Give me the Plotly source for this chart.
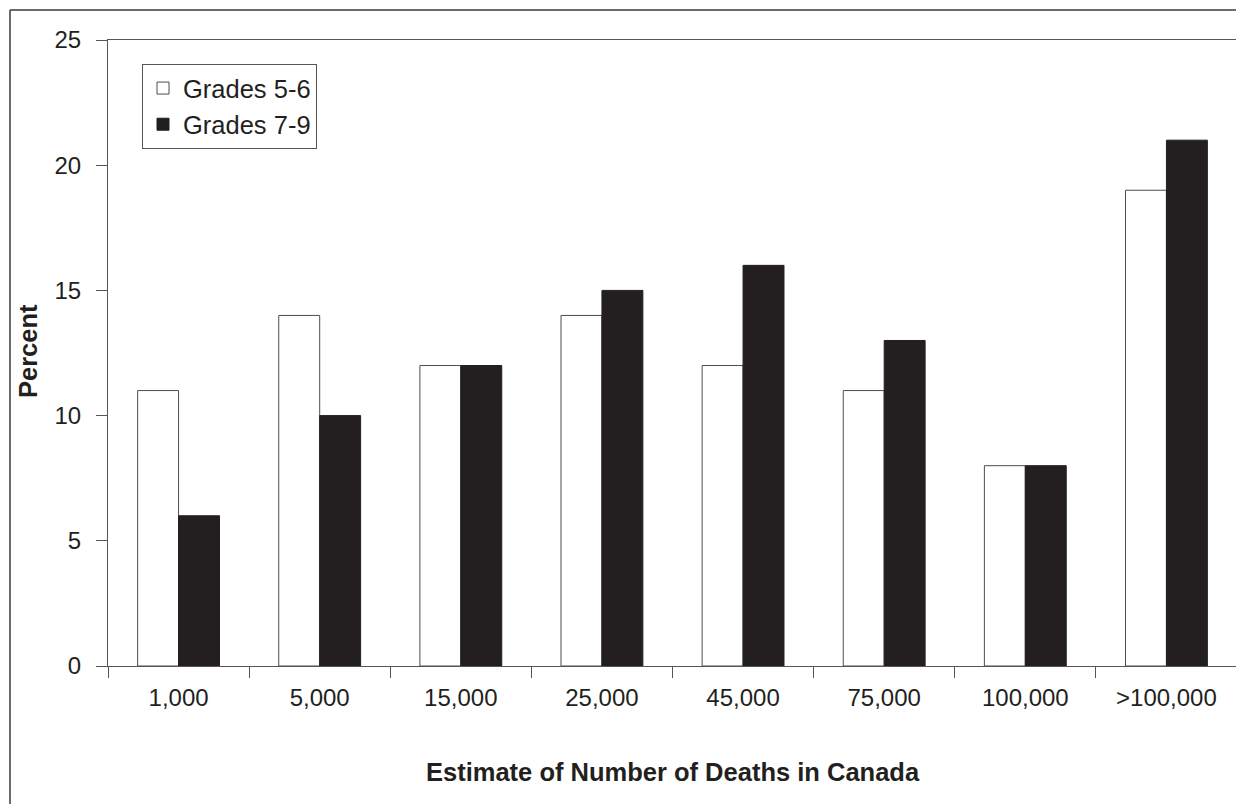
import plotly.graph_objects as go

categories = ["1,000", "5,000", "15,000", "25,000", "45,000", "75,000", "100,000", ">100,000"]
grades_5_6 = [11, 14, 12, 14, 12, 11, 8, 19]
grades_7_9 = [6, 10, 12, 15, 16, 13, 8, 21]
y_ticks = [0, 5, 10, 15, 20, 25]

FONT = "Liberation Sans, Arial, Helvetica, sans-serif"
AX = "#555555"
OFF = 8  # page body margin
W, H = 1244, 804
# plot area in page pixels: x 108..1237, y 40..666
ML = 108 - OFF
MT = 40 - OFF
MR = W - (1237 - OFF)
MB = H - (666 - OFF)
PW = W - ML - MR
PH = H - MT - MB

def px_x(px):
    return (px - OFF - ML) / PW

def px_y(py):
    return (H - MB - (py - OFF)) / PH

fig = go.Figure()
fig.add_trace(go.Bar(
    x=categories, y=grades_5_6, name="Grades 5-6",
    marker=dict(color="#ffffff", line=dict(color="#4d4d4d", width=1)),
))
fig.add_trace(go.Bar(
    x=categories, y=grades_7_9, name="Grades 7-9",
    marker=dict(color="#231f20", line=dict(color="#231f20", width=1)),
))

fig.update_layout(
    width=W, height=H,
    margin=dict(l=ML, r=MR, t=MT, b=MB, pad=0),
    paper_bgcolor="white", plot_bgcolor="white",
    barmode="group", bargap=0.42, bargroupgap=0,
    font=dict(family=FONT, size=24, color="#231f20"),
    showlegend=True,
    legend=dict(
        x=px_x(142), y=px_y(64), xanchor="left", yanchor="top",
        bordercolor=AX, borderwidth=1, bgcolor="white",
        font=dict(size=25.5, family=FONT, color="#231f20"),
        traceorder="normal", entrywidth=180, entrywidthmode="pixels",
    ),
    xaxis=dict(
        type="category", range=[-0.5, 7.5],
        showline=True, linecolor=AX, linewidth=1, mirror=True,
        ticks="outside", ticklen=11, tickcolor=AX, tickwidth=1,
        tickson="boundaries", showgrid=False, zeroline=False,
        ticklabelstandoff=10,
        tickfont=dict(size=24, family=FONT, color="#231f20"),
    ),
    yaxis=dict(
        range=[0, 25], tickvals=y_ticks,
        showline=True, linecolor=AX, linewidth=1, mirror=True,
        ticks="outside", ticklen=11, tickcolor=AX, tickwidth=1,
        showgrid=False, zeroline=False,
        ticklabelstandoff=10,
        tickfont=dict(size=24, family=FONT, color="#231f20"),
    ),
    annotations=[
        dict(text="<b>Estimate of Number of Deaths in Canada</b>",
             xref="paper", yref="paper", x=0.5, y=px_y(771.5),
             xanchor="center", yanchor="middle", showarrow=False,
             font=dict(size=25.5, family=FONT, color="#231f20")),
        dict(text="<b>Percent</b>", textangle=-90,
             xref="paper", yref="paper", x=px_x(28), y=px_y(351),
             xanchor="center", yanchor="middle", showarrow=False,
             font=dict(size=25.5, family=FONT, color="#231f20")),
    ],
    shapes=[
        dict(type="line", xref="paper", yref="paper",
             x0=px_x(10), x1=px_x(1260), y0=px_y(10), y1=px_y(10),
             line=dict(color="#3a3a3a", width=1.5)),
        dict(type="line", xref="paper", yref="paper",
             x0=px_x(10), x1=px_x(10), y0=px_y(10), y1=px_y(820),
             line=dict(color="#3a3a3a", width=1.5)),
    ],
)

fig.write_html("out.html")
